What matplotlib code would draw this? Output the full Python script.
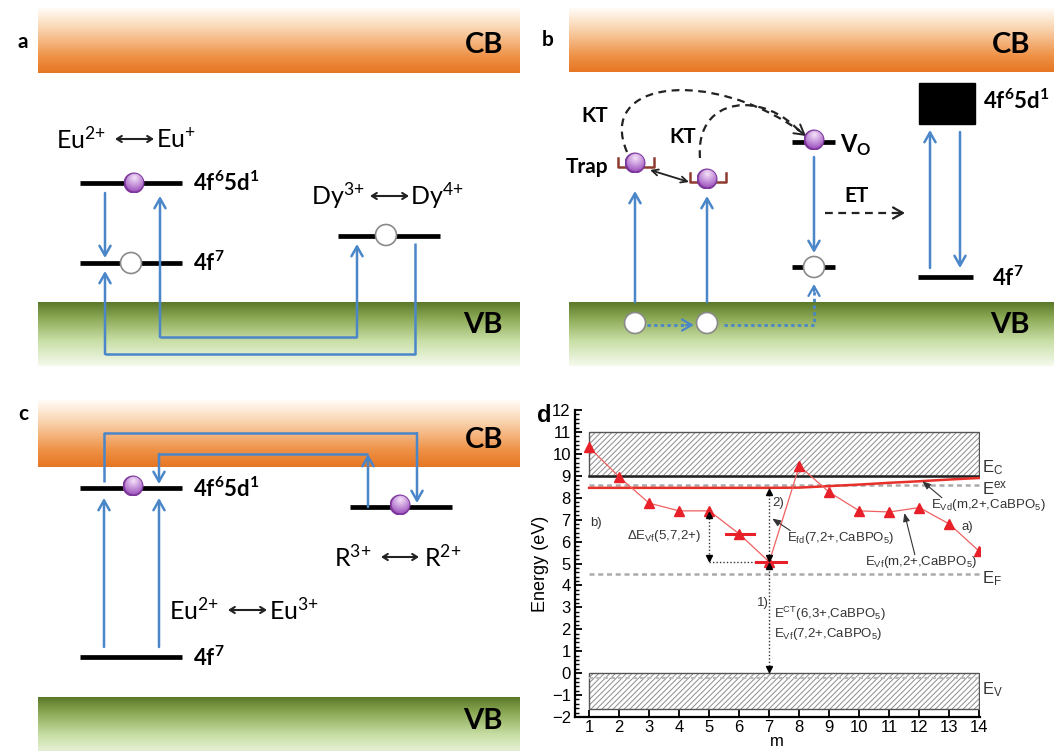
import numpy as np
import matplotlib
matplotlib.use("Agg")
import matplotlib.pyplot as plt
from matplotlib.patches import Rectangle, Circle, PathPatch
from matplotlib.path import Path
from matplotlib.ticker import MultipleLocator

plt.rcParams["mathtext.default"] = "regular"
plt.rcParams["hatch.linewidth"] = 0.7

# ── Panel d data (VRBE diagram) ──────────────────────────────────────────────
m_vals = [1, 2, 3, 4, 5, 6, 7, 8, 9, 10, 11, 12, 13, 14]
e_vf = [10.3, 8.95, 7.75, 7.4, 7.4, 6.35, 5.07, 9.45, 8.25, 7.4, 7.35, 7.55, 6.8, 5.55]
e_vd = [8.45, 8.45, 8.45, 8.45, 8.45, 8.45, 8.45, 8.46, 8.53, 8.6, 8.68, 8.75, 8.83, 8.9]
e_c, cb_top = 9.0, 11.0
e_ex = 8.6
e_f = 4.5
vb_top, vb_bot = 0.0, -1.65
bar_m = [(5.55, 6.5), (6.55, 7.55)]
bar_e = [6.35, 5.07]
yticks = [-2, -1, 0, 1, 2, 3, 4, 5, 6, 7, 8, 9, 10, 11, 12]

BLUE = "#4a86c8"
SFONT = "Lato"
DFONT = "Liberation Sans"

fig = plt.figure(figsize=(10.54, 7.51), dpi=100)
ov = fig.add_axes([0, 0, 1, 1])
ov.set_xlim(0, 1054)
ov.set_ylim(751, 0)
ov.axis("off")


def band(x0, x1, y0, y1, stops):
    t = np.linspace(0, 1, 200)
    fr = [s[0] for s in stops]
    img = np.zeros((200, 1, 3))
    for c in range(3):
        img[:, 0, c] = np.interp(t, fr, [s[1][c] for s in stops]) / 255
    ov.imshow(img, extent=(x0, x1, y1, y0), aspect="auto", origin="upper",
              interpolation="bilinear", zorder=1)


CB_STOPS = [(0, (255, 252, 248)), (0.3, (250, 215, 180)), (0.75, (238, 145, 70)), (1, (230, 118, 35))]
VB_STOPS = [(0, (90, 120, 40)), (0.25, (140, 170, 85)), (0.6, (200, 222, 165)), (1, (245, 250, 238))]


def ball(x, y, r=10.5):
    n = 60
    yy, xx = np.mgrid[-1:1:n * 1j, -1:1:n * 1j]
    d = np.clip(np.hypot(xx, yy + 0.45) / 1.45, 0, 1)
    hi = np.array([245, 225, 250]) / 255
    lo = np.array([150, 70, 185]) / 255
    img = hi * (1 - d[..., None]) + lo * d[..., None]
    rim = np.hypot(xx, yy) > 0.85
    img[rim] = np.array([125, 55, 155]) / 255
    im = ov.imshow(img, extent=(x - r, x + r, y + r, y - r), origin="upper", zorder=6)
    im.set_clip_path(Circle((x, y), r, transform=ov.transData))


def hole(x, y, r=10.5):
    ov.add_patch(Circle((x, y), r, facecolor="white", edgecolor="#8a8a8a", lw=1.2, zorder=6))


def level(x0, x1, y):
    ov.plot([x0, x1], [y, y], color="black", lw=3.4, solid_capstyle="butt", zorder=3)


def arrow(x0, y0, x1, y1, color=BLUE, lw=1.8, style="->,head_length=0.7,head_width=0.4"):
    ov.annotate("", xy=(x1, y1), xytext=(x0, y0), zorder=4,
                arrowprops=dict(arrowstyle=style, color=color, lw=lw, shrinkA=0, shrinkB=0))


def line(xs, ys, color=BLUE, lw=1.8, ls="-"):
    ov.plot(xs, ys, color=color, lw=lw, ls=ls, zorder=4, solid_capstyle="butt")


def txt(x, y, s, size=16, bold=False, ha="left"):
    ov.text(x, y, s, fontsize=size, family=SFONT, fontweight="bold" if bold else "normal",
            ha=ha, va="center", zorder=7)


def swap(x0, x1, y):
    ov.annotate("", xy=(x1, y), xytext=(x0, y), zorder=7,
                arrowprops=dict(arrowstyle="<->,head_length=0.35,head_width=0.22", color="#222222",
                                lw=1.5, shrinkA=0, shrinkB=0))


# ── Panel a ──────────────────────────────────────────────────────────────────
band(38, 520, 8, 73, CB_STOPS)
band(38, 520, 302, 366, VB_STOPS)
txt(18, 42, "a", 15, True)
txt(503, 45, "CB", 21, True, "right")
txt(503, 325, "VB", 21, True, "right")
level(80, 182, 183)
level(80, 182, 263)
level(338, 440, 236)
ball(134, 183)
hole(131, 263)
hole(386, 235)
txt(193, 183, r"4f$^{6}$5d$^{1}$", 16, True)
txt(193, 263, r"4f$^{7}$", 16, True)
txt(56, 139, r"Eu$^{2{+}}$", 18)
swap(115, 154, 139)
txt(156, 139, r"Eu$^{{+}}$", 18)
txt(311, 196, r"Dy$^{3{+}}$", 18)
swap(370, 409, 196)
txt(410, 196, r"Dy$^{4{+}}$", 18)
arrow(105, 193, 105, 258)
arrow(160, 337, 160, 196)
line([160, 357], [337, 337])
arrow(357, 337, 357, 244)
line([415, 415, 105], [243, 354, 354])
arrow(105, 354, 105, 271)

# ── Panel b ──────────────────────────────────────────────────────────────────
band(569, 1054, 8, 72, CB_STOPS)
band(569, 1054, 302, 366, VB_STOPS)
txt(542, 40, "b", 15, True)
txt(1030, 45, "CB", 21, True, "right")
txt(1030, 325, "VB", 21, True, "right")
ov.add_patch(Rectangle((919, 83), 56, 41, facecolor="black", edgecolor="black", zorder=3))
txt(983, 101, r"4f$^{6}$5d$^{1}$", 16, True)
level(918, 973, 277)
txt(992, 278, r"4f$^{7}$", 16, True)
arrow(930, 268, 930, 130)
arrow(960, 132, 960, 268)
level(792, 835, 142)
ball(814, 140)
txt(840, 145, r"V$_{O}$", 17, True)
arrow(814, 157, 814, 253)
level(792, 835, 267)
hole(814, 267)
line([724, 814, 814], [325, 325, 290], ls=(0, (1.2, 1.2)), lw=2.0)
arrow(814, 291, 814, 284, lw=1.6)
line([647, 688], [325, 325], ls=(0, (1.2, 1.2)), lw=2.0)
arrow(686, 325, 694, 325, lw=1.6)
hole(635, 323)
hole(707, 323)
arrow(635, 302, 635, 191)
arrow(707, 302, 707, 196)
# traps
TRAP = "#8e3b2f"
for bx, by in [(636, 167), (708, 182)]:
    ov.plot([bx - 18, bx - 18, bx + 18, bx + 18], [by - 9, by, by, by - 9], color=TRAP, lw=1.8, zorder=5)
ball(635, 163)
ball(707, 179)
txt(608, 167, "Trap", 15, True, "right")
ov.annotate("", xy=(689, 182), xytext=(650, 170), zorder=7,
            arrowprops=dict(arrowstyle="<->,head_length=0.45,head_width=0.22", color="#222222",
                            lw=1.3, shrinkA=0, shrinkB=0))
txt(595, 116, "KT", 15, True, "center")
txt(683, 137, "KT", 15, True, "center")
for verts in [[(627, 152), (596, 80), (710, 68), (800, 131)],
              [(700, 158), (695, 95), (765, 90), (802, 134)]]:
    ov.add_patch(PathPatch(Path(verts, [Path.MOVETO, Path.CURVE4, Path.CURVE4, Path.CURVE4]),
                           facecolor="none", edgecolor="#222222", lw=1.6, ls=(0, (3.5, 2.5)), zorder=4))
arrow(797, 129, 806, 136, color="#222222", lw=1.4)
line([825, 897], [213, 213], color="#222222", lw=1.6, ls=(0, (3.5, 2.5)))
arrow(896, 213, 905, 213, color="#222222", lw=1.6)
txt(857, 196, "ET", 15, True, "center")

# ── Panel c ──────────────────────────────────────────────────────────────────
band(38, 520, 400, 467, CB_STOPS)
band(38, 520, 697, 760, VB_STOPS)
txt(18, 414, "c", 15, True)
txt(503, 440, "CB", 21, True, "right")
txt(503, 721, "VB", 21, True, "right")
level(80, 182, 488)
level(80, 182, 657)
level(350, 452, 507)
ball(133, 486)
ball(400, 505)
txt(193, 489, r"4f$^{6}$5d$^{1}$", 16, True)
txt(193, 658, r"4f$^{7}$", 16, True)
arrow(104, 647, 104, 498)
arrow(159, 647, 159, 498)
line([104, 104, 417], [482, 433, 433])
arrow(417, 433, 417, 503)
arrow(368, 507, 368, 454)
line([368, 159], [454, 454])
arrow(159, 454, 159, 484)
txt(334, 557, r"R$^{3{+}}$", 18)
swap(381, 419, 557)
txt(424, 557, r"R$^{2{+}}$", 18)
txt(169, 610, r"Eu$^{2{+}}$", 18)
swap(228, 267, 610)
txt(269, 610, r"Eu$^{3{+}}$", 18)

# ── Panel d ──────────────────────────────────────────────────────────────────
ax = fig.add_axes([575 / 1054, (751 - 717) / 751, 405 / 1054, 307 / 751])
ax.set_facecolor("none")
ax.set_xlim(0.53, 14.02)
ax.set_ylim(-2, 12)
x0, x1 = m_vals[0], m_vals[-1]

ax.add_patch(Rectangle((x0, e_c), x1 - x0, cb_top - e_c, facecolor="white",
                       edgecolor="#8c8c8c", hatch="//////", lw=0, zorder=1))
ax.add_patch(Rectangle((x0, e_c), x1 - x0, cb_top - e_c, facecolor="none",
                       edgecolor="#555555", lw=1.0, zorder=2))
ax.add_patch(Rectangle((x0, vb_bot), x1 - x0, vb_top - vb_bot, facecolor="white",
                       edgecolor="#8c8c8c", hatch="//////", lw=0, zorder=1))
ax.add_patch(Rectangle((x0, vb_bot), x1 - x0, vb_top - vb_bot, facecolor="none",
                       edgecolor="#555555", lw=1.0, zorder=2))
ax.plot([x0, x1], [e_c, e_c], color="#222222", lw=1.8, zorder=3)
ax.plot([x0, x1], [vb_top - 0.2, vb_top - 0.2], color="#bbbbbb", lw=1.5, ls=(0, (2, 1.5)), zorder=2)
ax.plot([x0, x1], [e_ex, e_ex], color="#aaaaaa", lw=1.8, ls=(0, (2, 1.5)), zorder=2)
ax.plot([x0, x1], [e_f, e_f], color="#aaaaaa", lw=1.8, ls=(0, (2, 1.5)), zorder=2)

ax.plot(m_vals, e_vd, color="#e8302a", lw=1.8, zorder=4)
ax.plot(m_vals, e_vf, color="#f06060", lw=0.9, marker="^", ms=6.5,
        mfc="#e8202a", mec="#e8202a", zorder=5)
for (b0, b1), be in zip(bar_m, bar_e):
    ax.plot([b0, b1], [be, be], color="#e8202a", lw=2.2, zorder=5)

# dotted guides with arrow heads
dot = dict(color="#333333", lw=1.0, ls=(0, (1, 1.5)), zorder=4)
ax.plot([7, 7], [vb_top, e_vd[6]], **dot)
ax.plot([5, 5], [e_vf[4], e_vf[6]], **dot)
ax.plot([5, 6.9], [e_vf[6], e_vf[6]], **dot)
head = dict(ls="none", ms=4.5, color="black", zorder=6)
ax.plot([7, 7, 5], [0.17, 5.26, 5.24], marker="v", **head)
ax.plot([7, 7, 5], [4.88, 8.28, 7.23], marker="^", **head)

small = dict(fontsize=9.5, family=DFONT, color="#333333", zorder=7)
ax.text(1.05, 6.85, "b)", va="center", **small)
ax.text(2.25, 6.25, r"$\Delta$E$_{Vf}$(5,7,2+)", va="center", **small)
ax.text(7.1, 7.75, "2)", va="center", **small)
ax.text(6.98, 3.2, "1)", va="center", ha="right", **small)
ax.text(7.17, 2.7, r"E$^{CT}$(6,3+,CaBPO$_5$)", va="center", **small)
ax.text(7.17, 1.8, r"E$_{Vf}$(7,2+,CaBPO$_5$)", va="center", **small)
ax.text(13.4, 6.65, "a)", va="center", **small)
ax.text(7.6, 6.15, r"E$_{fd}$(7,2+,CaBPO$_5$)", va="center", **small)
ax.text(10.2, 5.05, r"E$_{Vf}$(m,2+,CaBPO$_5$)", va="center", **small)
ax.text(12.4, 7.65, r"E$_{Vd}$(m,2+,CaBPO$_5$)", va="center", **small)
ap = dict(arrowstyle="-|>,head_length=0.5,head_width=0.2", color="#333333", lw=0.8,
          shrinkA=0, shrinkB=0)
ax.annotate("", xy=(7.1, 7.05), xytext=(7.7, 6.5), arrowprops=ap, zorder=7)
ax.annotate("", xy=(11.5, 7.3), xytext=(11.85, 5.4), arrowprops=ap, zorder=7)
ax.annotate("", xy=(12.1, 8.75), xytext=(12.75, 8.0), arrowprops=ap, zorder=7)

big = dict(fontsize=12, family=DFONT, color="#333333", va="center", clip_on=False)
ax.text(14.1, 9.35, r"E$_C$", **big)
ax.text(14.1, 8.45, r"E$^{ex}$", **big)
ax.text(14.1, 4.3, r"E$_F$", **big)
ax.text(14.1, -0.75, r"E$_V$", **big)

ax.set_xticks(m_vals)
ax.set_yticks(yticks)
ax.yaxis.set_minor_locator(MultipleLocator(0.2))
ax.tick_params(axis="both", which="major", direction="in", length=5, width=1.3,
               labelsize=12, pad=3)
ax.tick_params(axis="x", which="major", pad=2)
ax.tick_params(axis="y", which="minor", direction="in", length=3, width=1.0)
for lab in ax.get_xticklabels() + ax.get_yticklabels():
    lab.set_family(DFONT)
for s in ["top", "right"]:
    ax.spines[s].set_visible(False)
for s in ["left", "bottom"]:
    ax.spines[s].set_linewidth(1.6)
ax.set_ylabel("Energy (eV)", fontsize=13, family=DFONT, labelpad=2)
fig.text(777 / 1054, 1 - 741 / 751, "m", fontsize=12, family=DFONT, ha="center", va="center")
fig.text(537 / 1054, 1 - 416 / 751, "d", fontsize=17, fontweight="bold", family=DFONT,
         va="center")

fig.savefig("out.png", dpi=100)
